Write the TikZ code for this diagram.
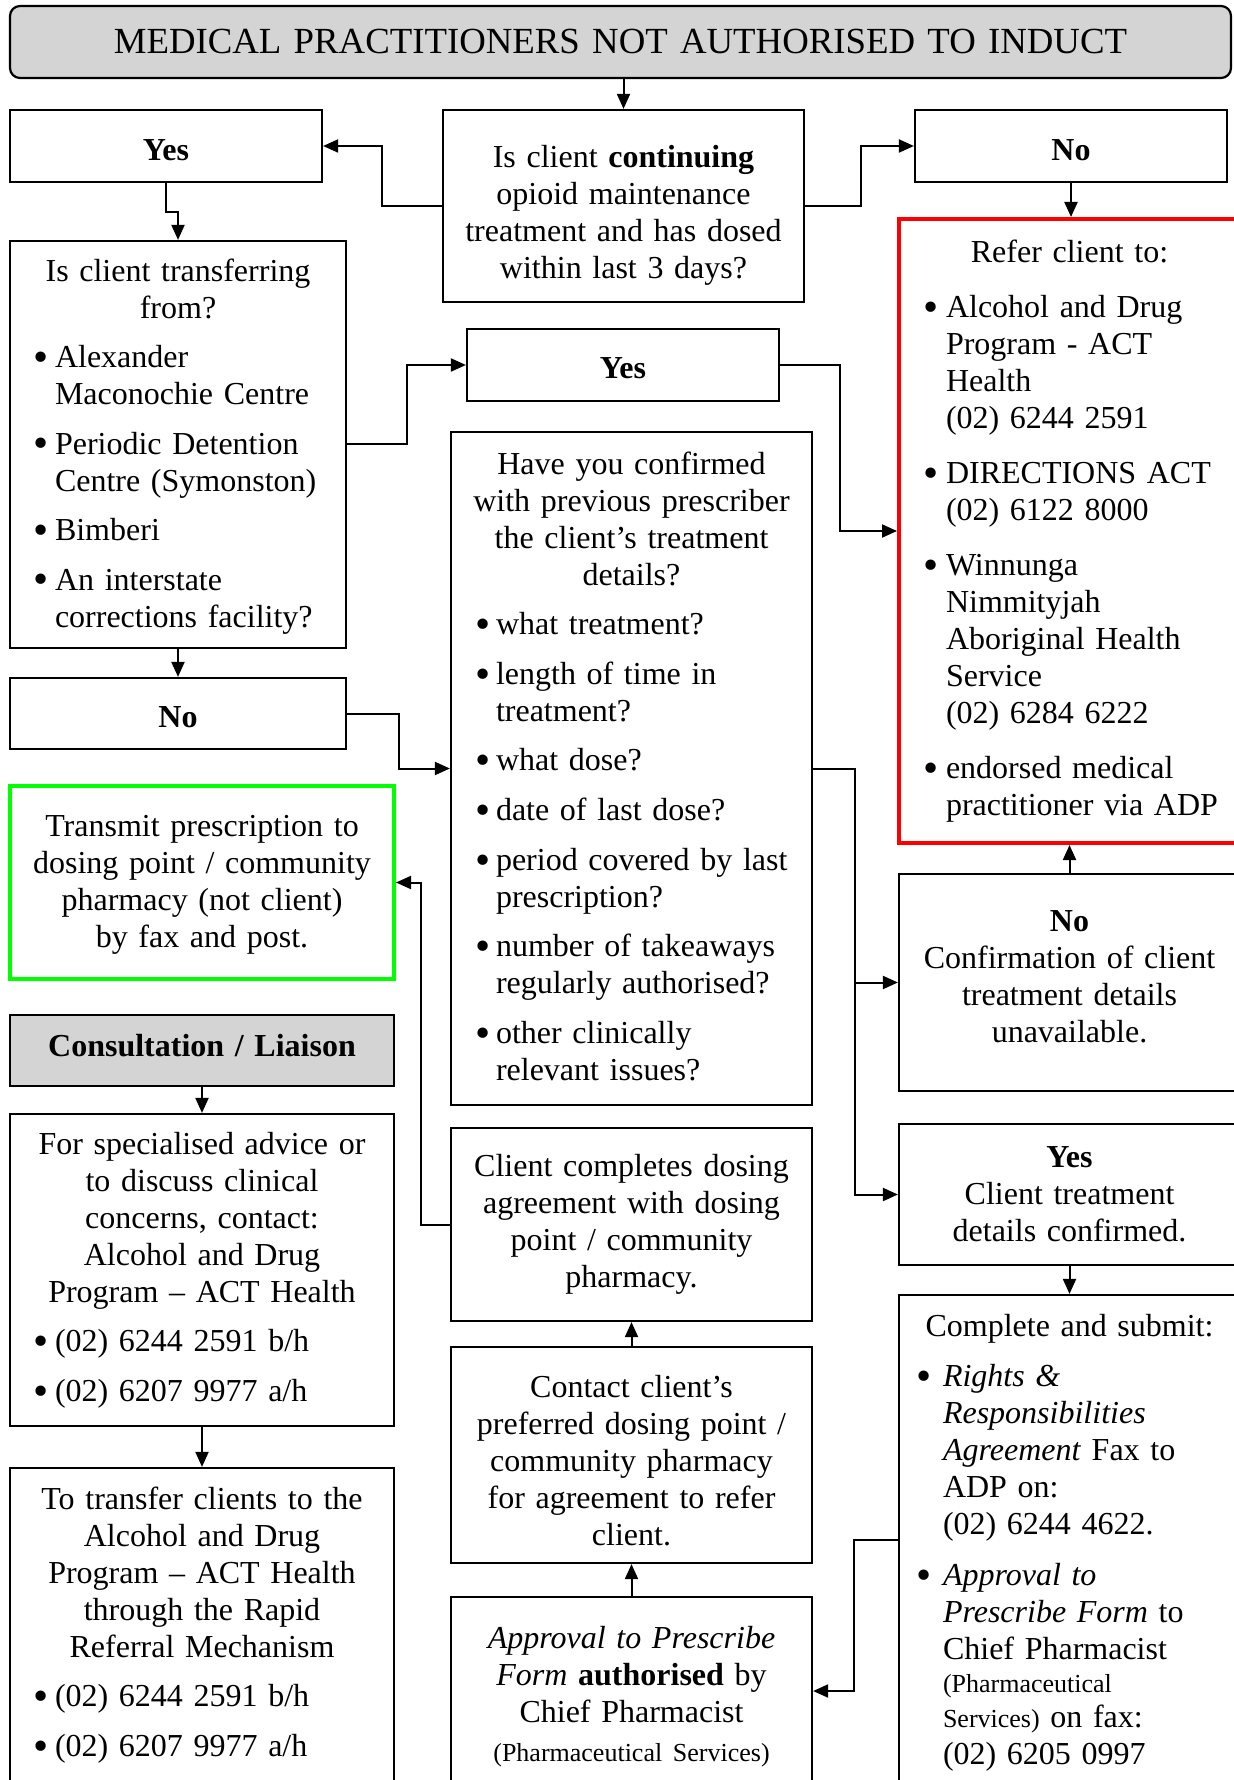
\documentclass[tikz,border=0pt]{standalone}
\usepackage{fontspec}
\usepackage{graphicx}
\setmainfont{Liberation Serif}
\usetikzlibrary{arrows.meta,calc}
\definecolor{grayfill}{RGB}{212,212,212}
\definecolor{brightgreen}{RGB}{0,255,0}
\definecolor{brightred}{RGB}{255,0,0}
\makeatletter
\newlength\bleft \newlength\bhang \newlength\bgap
\setlength\bleft{10.5pt}\setlength\bhang{11pt}\setlength\bgap{6.25pt}
\newcommand\bulsym{\raisebox{-0.12em}{\scalebox{1.35}{\textbullet}}}
\newcommand\bul[1]{\par\vspace{\bgap}{\leftskip=\bleft\relax\hangindent=\bhang\relax\hangafter=1\relax\noindent\makebox[\bhang][l]{\bulsym}\let\\\@normalcr #1\par}}
\makeatother
\newcommand\tstrut[1]{\rule{0pt}{#1}}
\newcommand\bstrut[1]{\rule[-#1]{0pt}{0pt}}
\newcommand\smallfnt{\fontsize{13}{15}\selectfont}
\tikzset{
  bx/.style={draw, line width=1.1pt, inner sep=0pt, font=\fontsize{16}{18.5}\selectfont, align=center},
  arr/.style={line width=1pt, -{Triangle[length=7.5pt,width=6.5pt]}},
}
\begin{document}
\begin{tikzpicture}[x=0.5pt,y=-0.5pt]
\useasboundingbox (0,0) rectangle (1234,1780);
\begin{scope}
\clip (0,0) rectangle (1234,1780);
\fill[white] (0,0) rectangle (1234,1780);

\node[bx, rounded corners=5pt, fill=grayfill, minimum width=610.5pt, minimum height=36pt, text width=600pt, font=\fontsize{18.4}{21}\selectfont] (title) at (620.5,42) {MEDICAL PRACTITIONERS NOT AUTHORISED TO INDUCT};

\node[bx, minimum width=156pt, minimum height=36pt, text width=150pt] (yes1) at (166,146) {\tstrut{15pt}\textbf{Yes}};
\node[bx, minimum width=180.5pt, minimum height=96pt, text width=176pt] (q1) at (623.5,206) {\tstrut{20pt}Is client \textbf{continuing}\\opioid maintenance\\treatment and has dosed\\within last 3 days?};
\node[bx, minimum width=156pt, minimum height=36pt, text width=150pt] (no1) at (1071,146) {\tstrut{15pt}\textbf{No}};

\node[bx, align=left, minimum width=168pt, minimum height=203.5pt, text width=166pt] (transfer) at (178,444.5) {%
{\centering\tstrut{13pt}Is client transferring\\from?\par}
\bul{Alexander\\Maconochie Centre}
\bul{Periodic Detention\\Centre (Symonston)}
\bul{Bimberi}
\bul{An interstate\\corrections facility?}};

\node[bx, minimum width=156pt, minimum height=36pt, text width=150pt] (yes2) at (623,365) {\tstrut{14pt}\textbf{Yes}};

\node[bx, draw=brightred, line width=2pt, align=left, minimum width=170.5pt, minimum height=312pt, text width=168.5pt] (refer) at (1069.5,531) {%
\setlength\bleft{11pt}\setlength\bhang{11.5pt}\setlength\bgap{9pt}%
{\centering Refer client to:\par}
\bul{Alcohol and Drug\\Program - ACT\\Health\\(02) 6244 2591}
\bul{DIRECTIONS ACT\\(02) 6122 8000}
\bul{Winnunga\\Nimmityjah\\Aboriginal Health\\Service\\(02) 6284 6222}
\bul{endorsed medical\\practitioner via ADP}};

\node[bx, align=left, minimum width=180.5pt, minimum height=336.5pt, text width=178.5pt] (q2) at (631.5,768.5) {%
\setlength\bleft{11pt}\setlength\bhang{10.5pt}\setlength\bgap{6.3pt}%
{\centering Have you confirmed\\with previous prescriber\\the client’s treatment\\details?\par}
\bul{what treatment?}
\bul{length of time in\\treatment?}
\bul{what dose?}
\bul{date of last dose?}
\bul{period covered by last\\prescription?}
\bul{number of takeaways\\regularly authorised?}
\bul{other clinically\\relevant issues?\bstrut{2.5pt}}};

\node[bx, minimum width=168pt, minimum height=35.5pt, text width=160pt] (no2) at (178,713.5) {\tstrut{14pt}\textbf{No}};

\node[bx, draw=brightgreen, line width=2pt, minimum width=192pt, minimum height=96.5pt, text width=188pt] (green) at (202,882.5) {\tstrut{13.3pt}Transmit prescription to\\dosing point / community\\pharmacy (not client)\\by fax and post.};

\node[bx, minimum width=170.5pt, minimum height=108.5pt, text width=168.5pt] (no3) at (1069.5,982.5) {\textbf{No}\\Confirmation of client\\treatment details\\unavailable.\bstrut{5.7pt}};

\node[bx, fill=grayfill, minimum width=192pt, minimum height=35.5pt, text width=188pt] (consult) at (202,1050.5) {\textbf{Consultation / Liaison}\bstrut{4.7pt}};

\node[bx, align=left, minimum width=192pt, minimum height=156pt, text width=190pt] (spec) at (202,1270) {%
\setlength\bgap{6.25pt}%
{\centering For specialised advice or\\to discuss clinical\\concerns, contact:\\Alcohol and Drug\\Program – ACT Health\par}
\bul{(02) 6244 2591 b/h}
\bul{(02) 6207 9977 a/h}};

\node[bx, minimum width=180.5pt, minimum height=96.5pt, text width=178.5pt] (dosing) at (631.5,1224.5) {Client completes dosing\\agreement with dosing\\point / community\\pharmacy.};

\node[bx, minimum width=170.5pt, minimum height=70.5pt, text width=168.5pt] (yes3) at (1069.5,1194.5) {\textbf{Yes}\\Client treatment\\details confirmed.};

\node[bx, align=left, minimum width=170.5pt, minimum height=245pt, text width=168.5pt] (submit) at (1069.5,1540) {%
\setlength\bleft{7.5pt}\setlength\bhang{13.5pt}\setlength\bgap{6.5pt}%
{\centering\tstrut{14pt}Complete and submit:\par}
\bul{\textit{Rights \&}\\\textit{Responsibilities}\\\textit{Agreement} Fax to\\ADP on:\\(02) 6244 4622.}
\setlength\bgap{7pt}%
\bul{\textit{Approval to}\\\textit{Prescribe Form} to\\Chief Pharmacist\\[-2pt]{\smallfnt (Pharmaceutical}\\[-1pt]{\smallfnt Services)} on fax:\\(02) 6205 0997}};

\node[bx, minimum width=180.5pt, minimum height=108pt, text width=178.5pt] (contact) at (631.5,1455) {\tstrut{16.7pt}Contact client’s\\preferred dosing point /\\community pharmacy\\for agreement to refer\\client.};

\node[bx, align=left, minimum width=192pt, minimum height=161pt, text width=190pt] (rapid) at (202,1629) {%
\setlength\bgap{6.25pt}%
{\centering To transfer clients to the\\Alcohol and Drug\\Program – ACT Health\\through the Rapid\\Referral Mechanism\par}
\bul{(02) 6244 2591 b/h}
\bul{(02) 6207 9977 a/h\bstrut{7.4pt}}};

\node[bx, minimum width=180.5pt, minimum height=94pt, text width=178.5pt] (approval) at (631.5,1691) {\tstrut{16.7pt}\textit{Approval to Prescribe}\\\textit{Form} \textbf{authorised} by\\Chief Pharmacist\par{\fontsize{13}{19.5}\selectfont (Pharmaceutical Services)\par}};

% connectors
\draw[arr] (q1.north |- title.south) -- (q1.north);
\draw[arr] (q1.west) -- ++(-60,0) |- (yes1.east);
\draw[arr] (q1.east) -- ++(56,0) |- (no1.west);
\draw[arr] (yes1.south) -- ++(0,29) -| (transfer.north);
\draw[arr] (no1.south) -- (no1.south |- refer.north);
\draw[arr] (transfer.east) -- ++(60,0) |- (yes2.west);
\draw[arr] (transfer.south) -- (no2.north);
\draw[arr] (no2.east) -- ++(52,0) |- (q2.west);
\draw[arr] (yes2.east) -- ++(60,0) |- (refer.west);
\draw[arr] (q2.east) -- ++(42,0) |- (no3.west);
\draw[arr] (q2.east) -- ++(42,0) |- (yes3.west);
\draw[arr] (no3.north) -- (refer.south);
\draw[arr] (yes3.south) -- (submit.north);
\draw[arr] (submit.west) -- ++(-44,0) |- (approval.east);
\draw[arr] (approval.north) -- (contact.south);
\draw[arr] (contact.north) -- (dosing.south);
\draw[arr] (dosing.west) -- ++(-29,0) |- (green.east);
\draw[arr] (consult.south) -- (spec.north);
\draw[arr] (spec.south) -- (rapid.north);
\end{scope}
\end{tikzpicture}
\end{document}
